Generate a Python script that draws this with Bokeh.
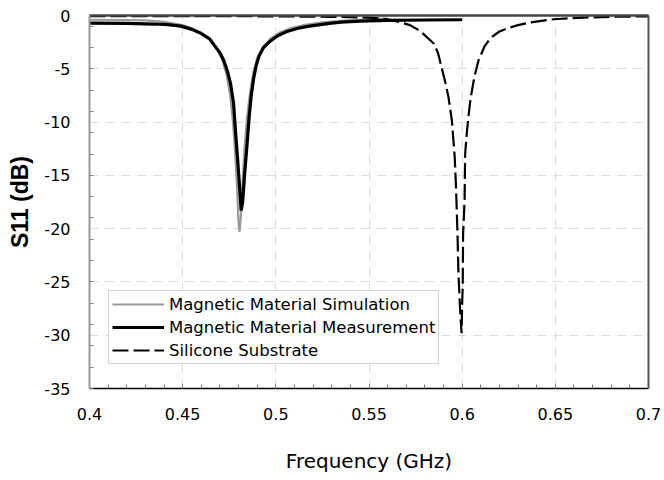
import numpy as np
from bokeh.plotting import figure
from bokeh.models import (Range1d, FixedTicker, NumeralTickFormatter, LinearAxis,
                          Legend, LegendItem)
from bokeh.embed import file_html
from bokeh.resources import INLINE

# ---- data ----
sim_f = [0.400, 0.420, 0.430, 0.440, 0.450, 0.455, 0.460, 0.465, 0.468, 0.471,
         0.4735, 0.4755, 0.4770, 0.4782, 0.4793, 0.4800, 0.4805, 0.4812, 0.4820,
         0.4832, 0.4846, 0.4862, 0.488, 0.490, 0.493, 0.497, 0.502, 0.508, 0.515,
         0.525, 0.535, 0.545, 0.555, 0.560]
sim_db = [-0.40, -0.42, -0.45, -0.60, -0.90, -1.2, -1.6, -2.3, -3.0, -4.0,
          -5.5, -7.5, -10.0, -13.0, -16.5, -19.5, -20.3, -19.0, -16.0,
          -12.5, -9.5, -7.2, -5.3, -4.0, -3.0, -2.2, -1.6, -1.2, -0.9,
          -0.65, -0.5, -0.4, -0.3, -0.28]

meas_f = [0.400, 0.420, 0.435, 0.442, 0.449, 0.455, 0.460, 0.4645, 0.467, 0.470,
          0.472, 0.474, 0.4757, 0.4773, 0.4784, 0.4795, 0.4805, 0.4814, 0.4822,
          0.4832, 0.4846, 0.4857, 0.4868, 0.4880, 0.4893, 0.491, 0.4934, 0.497,
          0.501, 0.506, 0.512, 0.518, 0.524, 0.530, 0.535, 0.545, 0.560, 0.580, 0.600]
meas_db = [-0.72, -0.74, -0.80, -0.85, -1.0, -1.3, -1.7, -2.2, -2.8, -3.5,
           -4.2, -5.2, -6.4, -8.2, -11.0, -13.5, -16.0, -18.3, -17.5,
           -15.0, -12.0, -9.5, -7.5, -6.0, -4.8, -3.8, -3.0, -2.4,
           -1.9, -1.5, -1.2, -1.0, -0.85, -0.72, -0.62, -0.52, -0.45, -0.42, -0.40]

sil_f = [0.400, 0.450, 0.500, 0.530, 0.550, 0.560, 0.566, 0.572, 0.576, 0.579,
         0.5846, 0.587, 0.589, 0.591, 0.5927, 0.5945, 0.5960, 0.5967, 0.5975,
         0.5980, 0.5990, 0.5997, 0.6000, 0.6003, 0.6005, 0.6013, 0.6016, 0.6025,
         0.6035, 0.6045, 0.6065, 0.6088, 0.612, 0.6152, 0.620, 0.6244, 0.630,
         0.6367, 0.649, 0.665, 0.680, 0.700]
sil_db = [-0.05, -0.05, -0.08, -0.12, -0.20, -0.35, -0.6, -0.9, -1.3, -1.7,
          -2.6, -3.5, -4.9, -6.3, -7.7, -9.9, -13.3, -16.1, -20.5,
          -24.2, -28.0, -29.8, -27.0, -25.5, -20.5, -17.4, -13.0, -11.0,
          -9.3, -7.8, -5.8, -4.2, -2.9, -2.1, -1.5, -1.2, -0.9,
          -0.65, -0.35, -0.2, -0.12, -0.08]

x_major = [0.4, 0.45, 0.5, 0.55, 0.6, 0.65, 0.7]
y_major = [0, -5, -10, -15, -20, -25, -30, -35]

series_names = ["Magnetic Material Simulation", "Magnetic Material Measurement",
                "Silicone Substrate"]

FONT = "DejaVu Sans"
TITLE_FONT = "Liberation Sans"

p = figure(width=664, height=480, output_backend="svg", toolbar_location=None,
           x_range=Range1d(0.4, 0.7), y_range=Range1d(-35, 0),
           min_border_left=89, min_border_right=16, min_border_top=15,
           min_border_bottom=92, background_fill_color="white",
           border_fill_color="white")
p.outline_line_color = None

# ticks
x_minor = list(np.round(np.arange(0.4, 0.7001, 0.01), 3))
y_minor = list(np.arange(-35, 0, 2))
p.xaxis.ticker = FixedTicker(ticks=x_major, minor_ticks=x_minor)
p.yaxis.ticker = FixedTicker(ticks=y_major, minor_ticks=y_minor)
p.xaxis.formatter = NumeralTickFormatter(format="0.[00]")
p.yaxis.formatter = NumeralTickFormatter(format="0")

for ax in (p.xaxis[0], p.yaxis[0]):
    ax.major_label_text_font = FONT
    ax.major_label_text_font_size = "16px"
    ax.major_label_text_color = "black"
    ax.axis_label_text_color = "black"
    ax.major_tick_out = 0
    ax.minor_tick_out = 0

xa = p.xaxis[0]
xa.axis_label = "Frequency (GHz)"
xa.axis_label_text_font = FONT
xa.axis_label_text_font_size = "20px"
xa.axis_label_text_font_style = "normal"
xa.axis_line_color = "black"
xa.axis_line_width = 1.5
xa.major_tick_in = 4
xa.minor_tick_in = 4
xa.major_tick_line_color = "#777"
xa.minor_tick_line_color = "#777"
xa.major_label_standoff = 19
xa.axis_label_standoff = 26

ya = p.yaxis[0]
ya.axis_label = "S11 (dB)"
ya.axis_label_text_font = TITLE_FONT
ya.axis_label_text_font_size = "23px"
ya.axis_label_text_font_style = "bold"
ya.axis_line_color = "#999"
ya.axis_line_width = 2
ya.major_tick_in = 0
ya.minor_tick_in = 4
ya.minor_tick_line_color = "#888"
ya.major_label_standoff = 19
ya.axis_label_standoff = 8

# frame top/right borders as extra axes
for loc, col, w in (("right", "#555", 2), ("above", "#444", 2.5)):
    ax = LinearAxis(axis_line_color=col, axis_line_width=w,
                    major_tick_in=0, major_tick_out=0, minor_tick_in=0, minor_tick_out=0,
                    major_label_text_font_size="0px", major_label_standoff=0,
                    ticker=FixedTicker(ticks=[]))
    p.add_layout(ax, loc)

# grid
for g in (p.xgrid[0], p.ygrid[0]):
    g.grid_line_color = "#dcdcdc"
    g.grid_line_dash = "9 7"
    g.grid_line_width = 1

r_sim = p.line(sim_f, sim_db, line_color="#9a9a9a", line_width=2.2)
r_meas = p.line(meas_f, meas_db, line_color="black", line_width=3.2)
r_sil = p.line(sil_f, sil_db, line_color="black", line_width=2.2, line_dash="16 5")

legend = Legend(items=[LegendItem(label=series_names[0], renderers=[r_sim]),
                       LegendItem(label=series_names[1], renderers=[r_meas]),
                       LegendItem(label=series_names[2], renderers=[r_sil])],
                location=(19, 24), border_line_color="#aaaaaa", border_line_width=1,
                background_fill_color="white", background_fill_alpha=1,
                label_text_font=FONT, label_text_font_size="16.5px",
                label_text_color="black",
                glyph_width=52, glyph_height=20, label_height=20,
                spacing=3, padding=3, margin=0, label_standoff=5)
p.add_layout(legend)

open("out.html", "w").write(file_html(p, INLINE))
